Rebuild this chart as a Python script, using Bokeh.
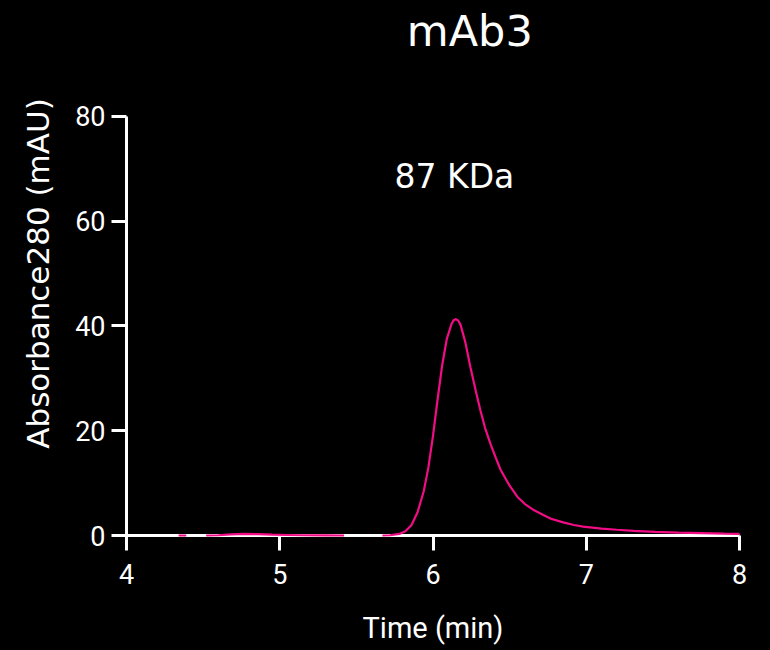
import math
from bokeh.plotting import figure
from bokeh.models import Range1d, FixedTicker, Label
from bokeh.embed import file_html
from bokeh.resources import INLINE

nan = math.nan

title_text = "mAb3"
peak_text = "87 KDa"
x_label = "Time (min)"
y_label = "Absorbance280 (mAU)"
x_ticks = [4, 5, 6, 7, 8]
y_ticks = [0, 20, 40, 60, 80]

# chromatogram (NaN = gap in trace)
time_min = [4.34, 4.39, nan,
            4.52, 4.60, 4.68, 4.77, 4.86, 4.95, 5.05, 5.15, 5.30, 5.42, nan,
            5.67, 5.72, 5.78, 5.82, 5.86, 5.90, 5.94, 5.97,
            6.00, 6.03, 6.06, 6.09, 6.12, 6.135, 6.15, 6.165, 6.18, 6.21, 6.245, 6.28,
            6.31, 6.34, 6.375, 6.41, 6.44, 6.50, 6.55, 6.60, 6.66, 6.72,
            6.77, 6.85, 6.92, 6.98, 7.10, 7.20, 7.31, 7.45, 7.60, 7.75,
            7.90, 8.00]
absorbance = [0.0, 0.0, nan,
              0.0, 0.05, 0.2, 0.3, 0.25, 0.15, 0.1, 0.05, 0.02, 0.0, nan,
              0.0, 0.05, 0.3, 0.8, 2.0, 4.5, 8.5, 13.0,
              19.0, 26.0, 32.5, 37.5, 40.3, 41.1, 41.3, 41.0, 40.2, 37.0, 32.0, 27.5,
              23.8, 20.5, 17.5, 14.8, 12.6, 9.5, 7.4, 6.0, 4.8, 3.9,
              3.2, 2.5, 2.0, 1.7, 1.3, 1.1, 0.9, 0.7, 0.55, 0.45,
              0.35, 0.3]

peak_pos = (6.14, 68.5)
title_pos = (6.24, 96.2)

p = figure(width=770, height=650, output_backend="svg", toolbar_location=None,
           x_range=Range1d(4.0, 8.0), y_range=Range1d(0.0, 100.0),
           min_border_left=126, min_border_right=31,
           min_border_top=11, min_border_bottom=115)
p.background_fill_color = "black"
p.border_fill_color = "black"
p.outline_line_color = None
p.grid.visible = False

line = p.line(time_min, absorbance, line_color="#F20C85", line_width=2.2)
line.level = "overlay"

for ax in (p.xaxis[0], p.yaxis[0]):
    ax.axis_line_color = "white"
    ax.axis_line_width = 3
    ax.major_tick_line_color = "white"
    ax.major_tick_line_width = 3
    ax.major_tick_out = 15
    ax.major_tick_in = 0
    ax.minor_tick_line_color = None
    ax.major_label_text_color = "white"
    ax.axis_label_text_color = "white"
    ax.axis_label_text_font_style = "normal"

xa = p.xaxis[0]
xa.ticker = FixedTicker(ticks=x_ticks)
xa.major_label_text_font = "Roboto"
xa.major_label_text_font_size = "27px"
xa.major_label_standoff = 13
xa.axis_label = x_label
xa.axis_label_text_font = "Roboto"
xa.axis_label_text_font_size = "29px"
xa.axis_label_standoff = 24

ya = p.yaxis[0]
ya.bounds = (0, 80)
ya.ticker = FixedTicker(ticks=y_ticks)
ya.major_label_text_font = "Roboto"
ya.major_label_text_font_size = "27px"
ya.major_label_standoff = 6
ya.axis_label = y_label
ya.axis_label_text_font = "DejaVu Sans"
ya.axis_label_text_font_size = "31px"
ya.axis_label_standoff = 16

p.add_layout(Label(x=peak_pos[0], y=peak_pos[1], text=peak_text,
                   text_color="white", text_font="DejaVu Sans",
                   text_font_size="33px", text_align="center",
                   text_baseline="alphabetic"))
p.add_layout(Label(x=title_pos[0], y=title_pos[1], text=title_text,
                   text_color="white", text_font="DejaVu Sans",
                   text_font_size="43px", text_align="center",
                   text_baseline="alphabetic"))

html = file_html(p, INLINE)
html = html.replace("<head>", "<head><style>html,body{background:#000;}</style>", 1)
open("out.html", "w").write(html)
